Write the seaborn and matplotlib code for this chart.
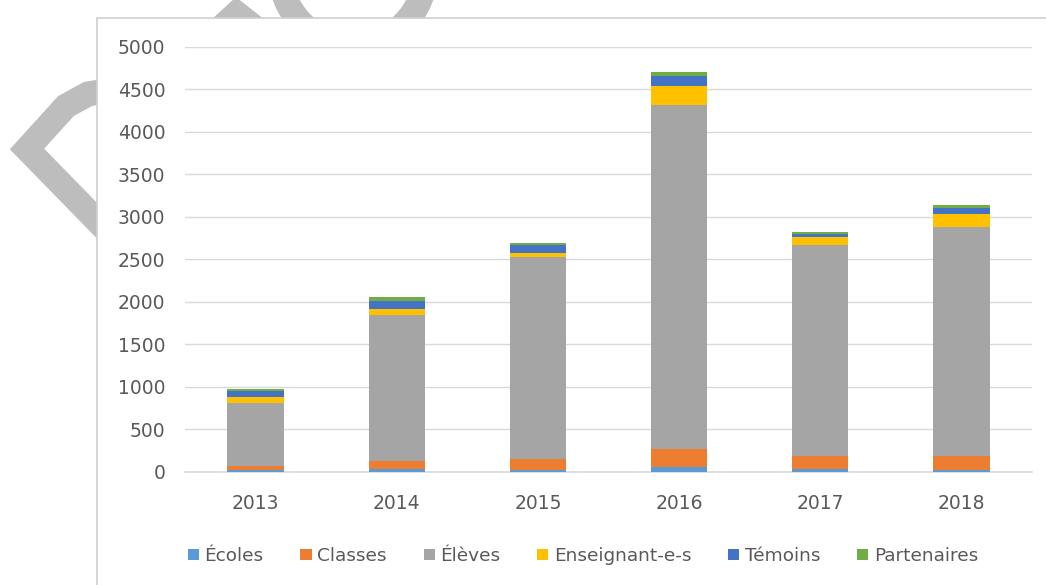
import matplotlib
matplotlib.use("Agg")
import matplotlib.pyplot as plt
import seaborn as sns
import pandas as pd
import numpy as np
from matplotlib.patches import Rectangle, Patch, Ellipse, Polygon
from matplotlib.lines import Line2D

years = ["2013", "2014", "2015", "2016", "2017", "2018"]
series = ["Écoles", "Classes", "Élèves", "Enseignant-e-s", "Témoins", "Partenaires"]
ecoles = [24, 35, 24, 52, 35, 20]
classes = [44, 90, 122, 212, 153, 168]
eleves = [737, 1721, 2380, 4047, 2475, 2687]
enseignants = [71, 64, 47, 224, 94, 153]
temoins = [71, 101, 91, 121, 35, 78]
partenaires = [27, 47, 31, 44, 24, 28]
colors = ["#5B9BD5", "#ED7D31", "#A5A5A5", "#FFC000", "#4472C4", "#70AD47"]

values = [ecoles, classes, eleves, enseignants, temoins, partenaires]

sns.set_theme(style="white")
plt.rcParams["font.family"] = ["DejaVu Sans"]

W, H = 1046, 585
fig = plt.figure(figsize=(W / 100, H / 100), dpi=100)

def fx(x):
    return x / W

def fy(y):
    return 1 - y / H

wm = "#BDBDBD"
# watermark shapes (behind the chart frame)
fig.add_artist(Line2D([fx(112), fx(88), fx(66), fx(27), fx(112)],
                      [fy(90), fy(94), fy(106), fy(149), fy(236)],
                      transform=fig.transFigure, color=wm, lw=18,
                      solid_joinstyle="miter", solid_capstyle="butt", zorder=0))
fig.add_artist(Polygon([[fx(212), fy(20)], [fx(236), fy(-2)], [fx(264), fy(20)]],
                       closed=True, transform=fig.transFigure, color=wm, zorder=0))
fig.add_artist(Ellipse((fx(353), fy(-30)), width=146 / W, height=150 / H,
                       transform=fig.transFigure, fill=False, edgecolor=wm, lw=18, zorder=0))

# chart frame
fig.add_artist(Rectangle((fx(97), fy(600)), fx(1060 - 97), (600 - 18) / H,
                         transform=fig.transFigure, facecolor="white",
                         edgecolor="#D0D0D0", lw=1.2, zorder=1))

ax = fig.add_axes([fx(185), fy(471.7), fx(1032 - 185), (471.7 - 46.7) / H])
ax.set_zorder(2)
ax.patch.set_alpha(0)

cum = np.zeros(len(years))
cums = []
for v in values:
    cum = cum + np.array(v)
    cums.append(cum.copy())

for i in range(len(series) - 1, -1, -1):
    d = pd.DataFrame({"year": years, "val": cums[i]})
    sns.barplot(data=d, x="year", y="val", order=years, color=colors[i],
                width=0.4, saturation=1, ax=ax, errorbar=None, zorder=3,
                edgecolor="none", linewidth=0)

ax.set_ylim(0, 5000)
ax.set_xlim(-0.5, 5.5)
ax.set_yticks(np.arange(0, 5001, 500))
ax.yaxis.grid(True, color="#D9D9D9", lw=1)
ax.set_axisbelow(True)
for s in ["left", "right", "top"]:
    ax.spines[s].set_visible(False)
ax.spines["bottom"].set_color("#D9D9D9")
ax.spines["bottom"].set_linewidth(1.2)
ax.set_xlabel("")
ax.set_ylabel("")
ax.tick_params(axis="both", length=0, labelsize=13.5, colors="#595959")
ax.tick_params(axis="y", pad=14)
ax.tick_params(axis="x", pad=16)

handles = [Patch(facecolor=c, edgecolor="none") for c in colors]
fig.legend(handles, series, loc="center", bbox_to_anchor=(fx(583), fy(556)),
           ncol=6, frameon=False, fontsize=13.3, handlelength=0.6, handleheight=0.6,
           handletextpad=0.3, columnspacing=2.0, labelcolor="#595959")

fig.savefig("out.png", dpi=100)
